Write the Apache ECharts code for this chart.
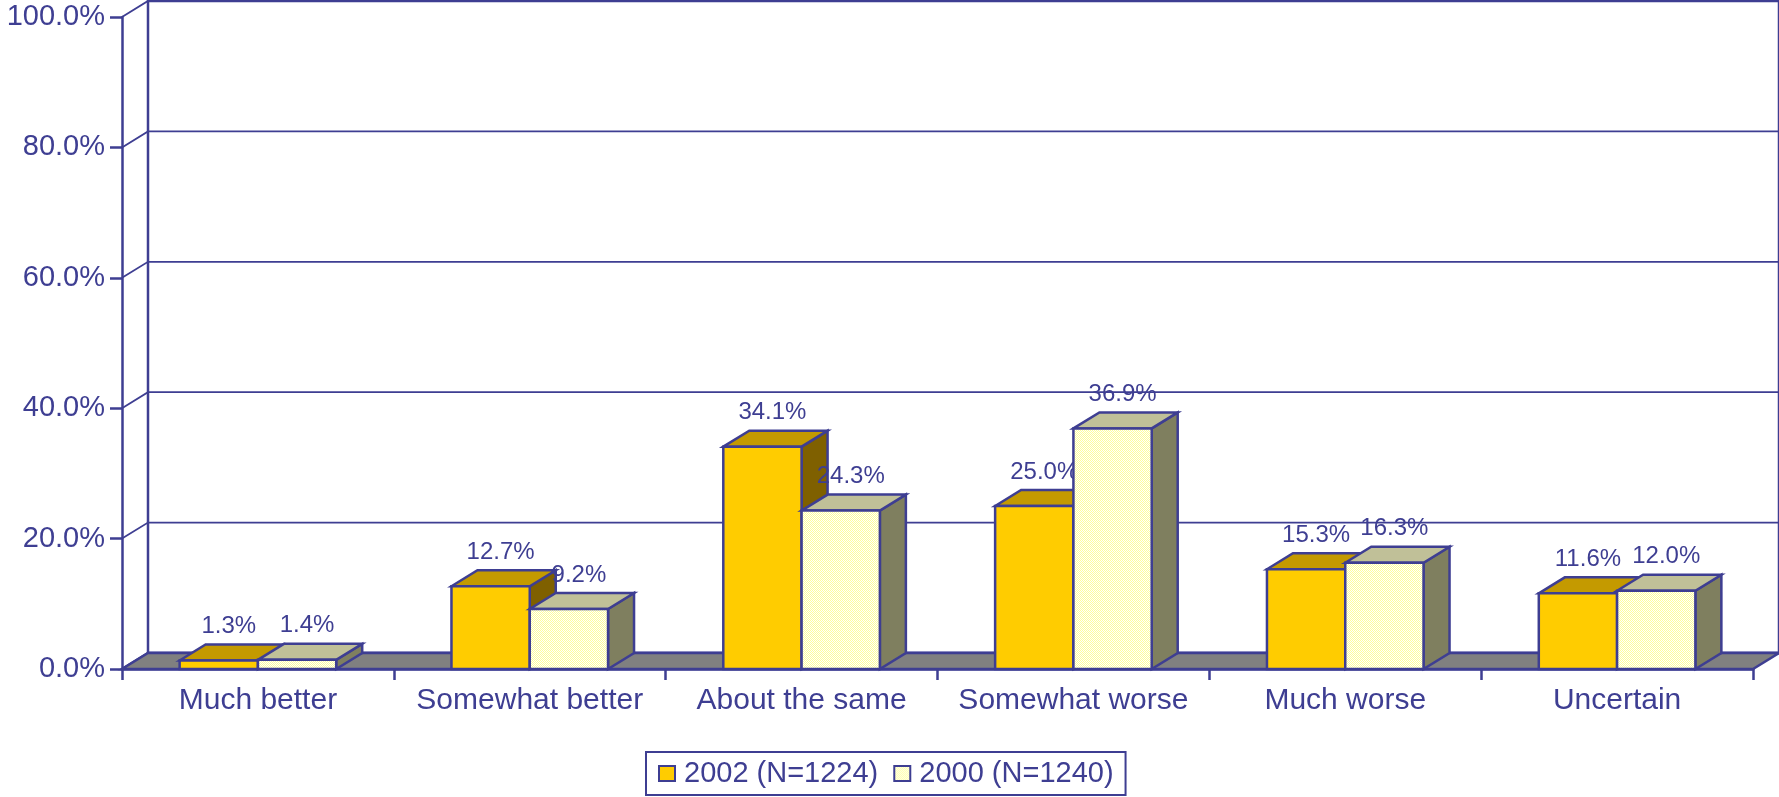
<!DOCTYPE html>
<html>
<head>
<meta charset="utf-8">
<script src="https://cdn.jsdelivr.net/npm/echarts@6/dist/echarts.min.js"></script>
<style>
  html, body { margin: 0; padding: 0; background: #fff; }
  #chart { width: 1779px; height: 797px; }
</style>
</head>
<body>
<div id="chart"></div>
<script>
const categories = ["Much better", "Somewhat better", "About the same", "Somewhat worse", "Much worse", "Uncertain"];
const seriesNames = ["2002 (N=1224)", "2000 (N=1240)"];
const values2002 = [1.3, 12.7, 34.1, 25.0, 15.3, 11.6];
const values2000 = [1.4, 9.2, 24.3, 36.9, 16.3, 12.0];
const yTicks = [0, 20, 40, 60, 80, 100];

const BLUE = "#3e3e92";
const FONT = '"Liberation Sans", Arial, sans-serif';
const DX = 26, DY = -16;

// dithered light yellow like the original fill
const pc = document.createElement("canvas");
pc.width = 2; pc.height = 2;
const pctx = pc.getContext("2d");
pctx.fillStyle = "#ffffff"; pctx.fillRect(0, 0, 2, 2);
pctx.fillStyle = "#ffff99"; pctx.fillRect(0, 0, 1, 1); pctx.fillRect(1, 1, 1, 1);
const palePattern = { image: pc, repeat: "repeat" };

const faces = [
  { front: "#ffcc00", top: "#c49a00", side: "#7f6000" },
  { front: palePattern, top: "#c0c098", side: "#7f7f5f" }
];

let chart = echarts.init(document.getElementById("chart"));

function renderWalls(params, api) {
  const cs = params.coordSys;
  const x0 = cs.x, x1 = cs.x + cs.width, y1 = cs.y + cs.height;
  const els = [];
  // back wall
  els.push({
    type: "rect",
    shape: { x: x0 + DX, y: cs.y + DY, width: cs.width, height: cs.height },
    style: { fill: "#fff", stroke: BLUE, lineWidth: 2.5 }
  });
  yTicks.forEach(function (v) {
    const y = api.coord([0, v])[1];
    els.push({
      type: "polyline",
      shape: { points: [[x0, y], [x0 + DX, y + DY], [x1 + DX, y + DY]] },
      style: { fill: null, stroke: BLUE, lineWidth: v === 0 ? 2.5 : 1.8 }
    });
  });
  // floor
  els.push({
    type: "polygon",
    shape: { points: [[x0, y1], [x1, y1], [x1 + DX, y1 + DY], [x0 + DX, y1 + DY]] },
    style: { fill: "#808080", stroke: BLUE, lineWidth: 2.5 }
  });
  return { type: "group", children: els };
}

function makeBarRenderer(s) {
  return function (params, api) {
    const idx = api.value(0), val = api.value(1);
    const base = api.coord([idx, 0]);
    const top = api.coord([idx, val]);
    const barW = api.size([1, 0])[0] * 0.288;
    const left = base[0] - barW + s * barW;
    const right = left + barW;
    const ty = top[1], by = base[1];
    const f = faces[s];
    const st = { stroke: BLUE, lineWidth: 2.5, lineJoin: "miter" };
    return {
      type: "group",
      children: [
        {
          type: "polygon",
          shape: { points: [[right, ty], [right + DX, ty + DY], [right + DX, by + DY], [right, by]] },
          style: Object.assign({ fill: f.side }, st)
        },
        {
          type: "polygon",
          shape: { points: [[left, ty], [left + DX, ty + DY], [right + DX, ty + DY], [right, ty]] },
          style: Object.assign({ fill: f.top }, st)
        },
        {
          type: "rect",
          shape: { x: left, y: ty, width: barW, height: by - ty },
          style: Object.assign({ fill: f.front }, st)
        },
        {
          type: "text",
          z2: 10,
          style: {
            text: val.toFixed(1) + "%",
            x: left + barW / 2 + DX / 2 - 3,
            y: ty + DY - 18,
            align: "center",
            verticalAlign: "middle",
            fill: BLUE,
            font: "24px " + FONT
          }
        }
      ]
    };
  };
}

const option = {
  animation: false,
  textStyle: { fontFamily: FONT },
  grid: { left: 122, right: 26, top: 17, bottom: 128, containLabel: false },
  legend: {
    left: 646,
    top: 752,
    orient: "horizontal",
    icon: "rect",
    itemWidth: 16,
    itemHeight: 15,
    itemGap: 15,
    padding: [7, 12, 7, 12],
    borderColor: BLUE,
    borderWidth: 2,
    textStyle: { color: BLUE, fontSize: 29, fontFamily: FONT, width: 193, padding: [0, 0, 0, 4] },
    data: [
      { name: seriesNames[0], itemStyle: { color: "#ffcc00", borderColor: BLUE, borderWidth: 2 } },
      { name: seriesNames[1], itemStyle: { color: palePattern, borderColor: BLUE, borderWidth: 2 } }
    ]
  },
  xAxis: {
    type: "category",
    data: categories,
    axisLine: { show: true, lineStyle: { color: BLUE, width: 2.5 } },
    axisTick: { show: true, length: 11, interval: 0, lineStyle: { color: BLUE, width: 2.5 } },
    axisLabel: { color: BLUE, fontSize: 30, fontFamily: FONT, margin: 17, interval: 0 },
    splitLine: { show: false }
  },
  yAxis: {
    type: "value",
    min: 0,
    max: 100,
    interval: 20,
    axisLine: { show: true, lineStyle: { color: BLUE, width: 2.5 } },
    axisTick: { show: true, length: 12, lineStyle: { color: BLUE, width: 2.5 } },
    axisLabel: {
      color: BLUE,
      fontSize: 29,
      fontFamily: FONT,
      margin: 17,
      formatter: function (v) { return v.toFixed(1) + "%"; }
    },
    splitLine: { show: false }
  },
  series: [
    {
      name: "walls",
      type: "custom",
      z: 1,
      silent: true,
      renderItem: renderWalls,
      data: [[0, 0]],
      encode: { x: 0, y: 1 }
    },
    {
      name: seriesNames[0],
      type: "custom",
      z: 3,
      renderItem: makeBarRenderer(0),
      itemStyle: { color: "#ffcc00", borderColor: BLUE, borderWidth: 2 },
      encode: { x: 0, y: 1 },
      data: values2002.map(function (v, i) { return [i, v]; })
    },
    {
      name: seriesNames[1],
      type: "custom",
      z: 4,
      renderItem: makeBarRenderer(1),
      itemStyle: { color: palePattern, borderColor: BLUE, borderWidth: 2 },
      encode: { x: 0, y: 1 },
      data: values2000.map(function (v, i) { return [i, v]; })
    }
  ]
};

option && chart.setOption(option);
</script>
</body>
</html>
